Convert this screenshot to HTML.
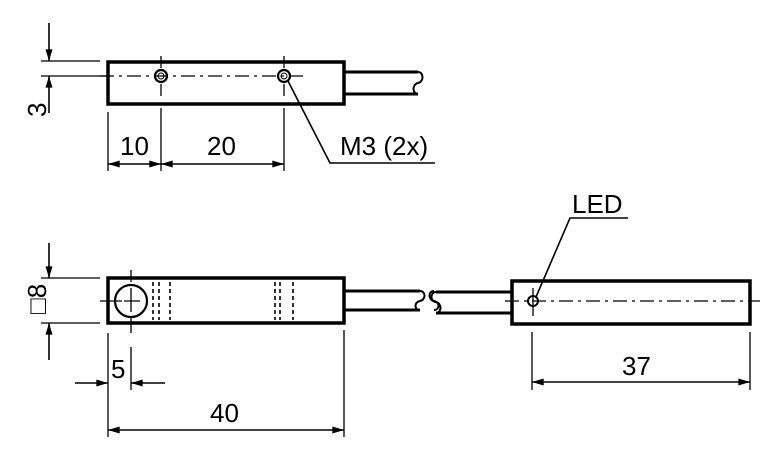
<!DOCTYPE html>
<html><head><style>body{margin:0;background:#fff}svg{display:block}</style></head><body>
<svg width="784" height="462" viewBox="0 0 784 462" xmlns="http://www.w3.org/2000/svg" font-family="Liberation Sans, sans-serif" font-size="26">
<defs>
<marker id="a" viewBox="0 0 10 6" refX="10" refY="3" markerWidth="20" markerHeight="7" markerUnits="userSpaceOnUse" orient="auto"><path d="M0,0L10,3L0,6z" fill="#000"/></marker>
</defs>
<g stroke="#000" fill="none">
<!-- top view -->
<rect x="108" y="62" width="236" height="42" stroke-width="3.5"/>
<path d="M344,72H418M344,94H418" stroke-width="3"/>
<path d="M418,72c6,0 6,10 0,11c-6,1 -6,11 0,11" stroke-width="2"/>
<path d="M100,76H305" stroke-width="1.3" stroke-dasharray="14,5,3,5"/>
<circle cx="161" cy="76" r="6" stroke-width="2.2"/><circle cx="161" cy="76" r="3" stroke-width="1"/>
<circle cx="284" cy="76" r="6" stroke-width="2.2"/><circle cx="284" cy="76" r="3" stroke-width="1"/>
<path d="M161,56V68M161,84V96M284,56V68M284,84V96" stroke-width="1.3"/>
<path d="M41,61H100M41,76H108" stroke-width="1.3"/>
<path d="M49,23V61" stroke-width="1.6" marker-end="url(#a)"/>
<path d="M49,113V76" stroke-width="1.6" marker-end="url(#a)"/>
<path d="M108,112V171M161,108V171M284,108V171" stroke-width="1.3"/>
<path d="M135,164H108" stroke-width="1.6" marker-end="url(#a)"/>
<path d="M135,164H161" stroke-width="1.6" marker-end="url(#a)"/>
<path d="M222,164H161" stroke-width="1.6" marker-end="url(#a)"/>
<path d="M222,164H284" stroke-width="1.6" marker-end="url(#a)"/>
<path d="M288,81L330,163H435" stroke-width="1.6"/>
<!-- bottom left -->
<rect x="108" y="278" width="236" height="45" stroke-width="3.5"/>
<path d="M344,291H420M344,310H420" stroke-width="3"/>
<path d="M420,291c6,0 6,9 0,10c-6,1 -6,9 0,9M434,291c-6,0 -6,9 0,10c6,1 6,9 0,9" stroke-width="2"/>
<circle cx="131" cy="301" r="16" stroke-width="2.2"/>
<path d="M100,301H122M124,301H140M131,270V282M131,288V312M131,318V333" stroke-width="1.3"/>
<path d="M153,282V320M159,282V320M170,282V320M275,282V320M280,282V320M293,282V320" stroke-width="1.6" stroke-dasharray="4,3"/>
<path d="M41,278H100M41,323H100" stroke-width="1.3"/>
<path d="M49,243V278" stroke-width="1.6" marker-end="url(#a)"/>
<path d="M49,360V323" stroke-width="1.6" marker-end="url(#a)"/>
<path d="M108,333V437M131,347V390M344,330V437" stroke-width="1.3"/>
<path d="M75,383H108" stroke-width="1.6" marker-end="url(#a)"/>
<path d="M165,383H131" stroke-width="1.6" marker-end="url(#a)"/>
<path d="M226,430H108" stroke-width="1.6" marker-end="url(#a)"/>
<path d="M226,430H344" stroke-width="1.6" marker-end="url(#a)"/>
<!-- bottom right -->
<rect x="512" y="281" width="238" height="43" stroke-width="3.5"/>
<path d="M436,292H512M436,313H512" stroke-width="3"/>
<path d="M436,292c-6,0 -6,10 0,10c6,1 6,11 0,11" stroke-width="2"/>
<path d="M505,301H760" stroke-width="1.3" stroke-dasharray="14,5,3,5"/>
<circle cx="533" cy="301" r="5" stroke-width="2"/>
<path d="M533,288V316" stroke-width="1.3"/>
<path d="M532,332V390M750,332V390" stroke-width="1.3"/>
<path d="M641,382H532" stroke-width="1.6" marker-end="url(#a)"/>
<path d="M641,382H750" stroke-width="1.6" marker-end="url(#a)"/>
<path d="M536,297L570,218H628" stroke-width="1.6"/>
</g>
<g fill="#000">
<text x="120" y="155">10</text>
<text x="207" y="155">20</text>
<text x="340" y="155">M3 (2x)</text>
<text transform="translate(46,117) rotate(-90)">3</text>
<text transform="translate(46,314) rotate(-90)">□8</text>
<text x="111" y="378">5</text>
<text x="210" y="422">40</text>
<text x="622" y="375">37</text>
<text x="572" y="213">LED</text>
</g>
</svg>
</body></html>
